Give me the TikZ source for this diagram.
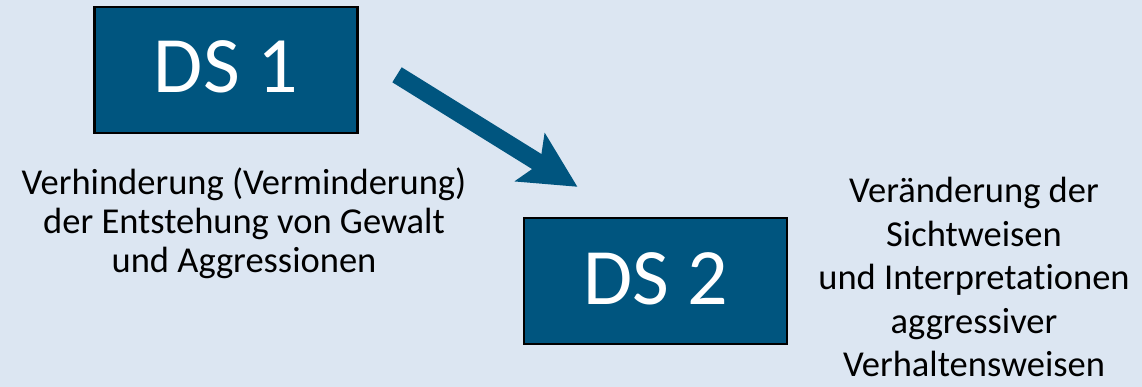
\documentclass[tikz,border=0pt]{standalone}
\usepackage{fontspec}
\setmainfont{Carlito}[Ligatures=NoCommon]
\usetikzlibrary{arrows.meta}
\definecolor{bgblue}{HTML}{DCE6F2}
\definecolor{boxblue}{HTML}{00557F}
\tikzset{
  dsbox/.style={draw=black, line width=2.5pt, fill=boxblue, text=white,
    minimum width=263pt, minimum height=126pt, inner sep=0pt,
    font={\fontsize{80}{90}\selectfont}, text height=50pt, text depth=4pt},
  desc/.style={anchor=base, inner sep=0pt, text=black},
  bigarrow/.style={draw=boxblue, line width=17.7pt,
    -{Stealth[length=56.3pt, width=57.5pt, inset=12.4pt, line width=0pt]}}
}
\begin{document}
\begin{tikzpicture}[x=1pt, y=-1pt]
  \fill[bgblue] (0,0) rectangle (1142,387);
  \useasboundingbox (0,0) rectangle (1142,387);
  \node[dsbox] (ds1) at (226.2,69.9) {DS 1};
  \node[dsbox] (ds2) at (655.5,281.2) {DS 2};
  \node[desc] (left) at (244,195) {\fontsize{36.5}{38.6}\selectfont
    \begin{tabular}[t]{@{}c@{}}Verhinderung (Verminderung)\\der Entstehung von Gewalt\\und Aggressionen\end{tabular}};
  \node[desc] (right) at (974,202.7) {\fontsize{36.5}{43.5}\selectfont
    \begin{tabular}[t]{@{}c@{}}Veränderung der\\Sichtweisen\\und Interpretationen\\aggressiver\\Verhaltensweisen\end{tabular}};
  \coordinate (atail) at (397,74.8);
  \coordinate (atip) at (577.3,186.7);
  \draw[bigarrow] (atail) -- (atip);
\end{tikzpicture}
\end{document}
